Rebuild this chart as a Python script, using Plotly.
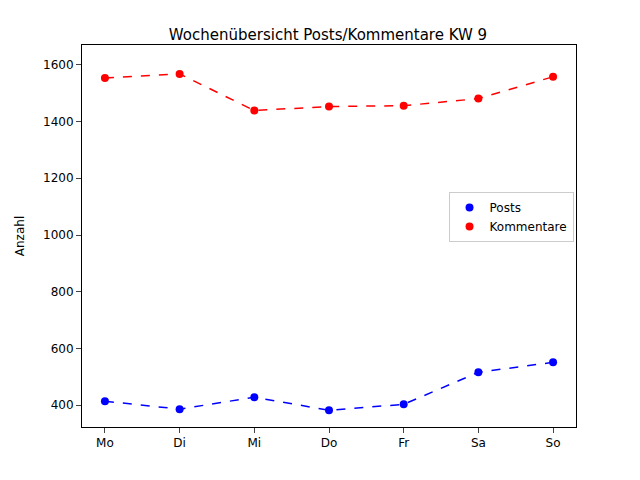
import plotly.graph_objects as go

days = ["Mo", "Di", "Mi", "Do", "Fr", "Sa", "So"]
posts = [414, 386, 428, 382, 403, 516, 551]
kommentare = [1554, 1568, 1439, 1453, 1456, 1481, 1558]

fig = go.Figure()
x = list(range(len(days)))
for name, vals, col in [("Posts", posts, "blue"), ("Kommentare", kommentare, "red")]:
    fig.add_trace(go.Scatter(x=x, y=vals, mode="lines", line=dict(color=col, dash="dash", width=1.5),
                             showlegend=False, hoverinfo="skip"))
for name, vals, col in [("Posts", posts, "blue"), ("Kommentare", kommentare, "red")]:
    fig.add_trace(go.Scatter(x=x, y=vals, mode="markers", name=name, marker=dict(color=col, size=8)))

fig.update_layout(
    width=640, height=480, plot_bgcolor="white", paper_bgcolor="white",
    margin=dict(l=72, r=72, t=37, b=61),
    font=dict(family="DejaVu Sans", size=12, color="black"),
    title=dict(text="Wochenübersicht Posts/Kommentare KW 9", x=0.5, xanchor="center", y=0.955, font=dict(size=15)),
    legend=dict(x=0.995, y=0.55, xanchor="right", yanchor="middle", bordercolor="#cccccc", borderwidth=1,
                bgcolor="white", font=dict(size=12)),
    xaxis=dict(range=[-0.307, 6.307], tickmode="array", tickvals=x, ticktext=days, showgrid=False,
               showline=True, linecolor="black", mirror=True, ticks="outside", zeroline=False),
    yaxis=dict(range=[323, 1670], dtick=200, showgrid=False, showline=True, linecolor="black", mirror=True,
               ticks="outside", zeroline=False, title=dict(text="Anzahl", font=dict(size=12))),
)
fig.write_html("out.html")
